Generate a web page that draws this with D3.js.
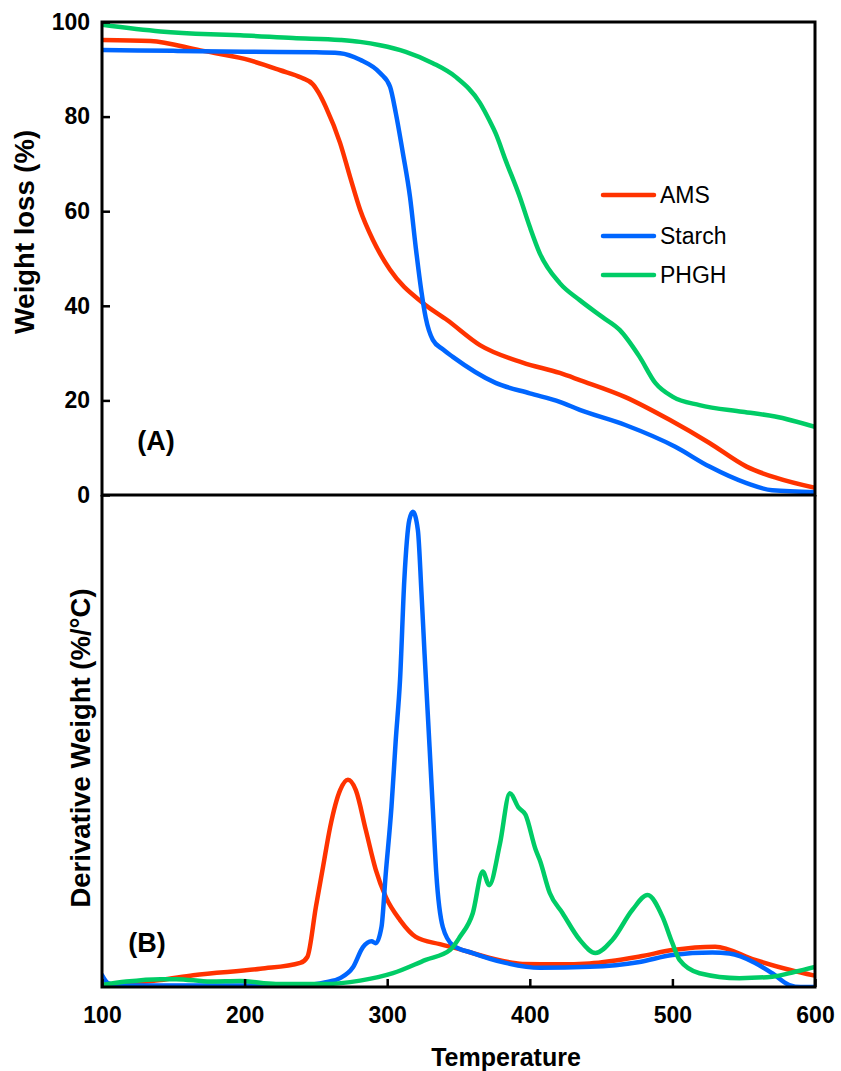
<!DOCTYPE html>
<html>
<head>
<meta charset="utf-8">
<script src="https://cdn.jsdelivr.net/npm/d3@7"></script>
<style>
  html, body { margin: 0; padding: 0; background: #fff; }
  svg { display: block; font-family: "Liberation Sans", Arial, sans-serif; }
</style>
</head>
<body>
<svg id="chart" width="841" height="1071"></svg>
<script>
// ---------- DATA ----------
const seriesNames = ["AMS", "Starch", "PHGH"];
const seriesColors = ["#FF3300", "#0066FF", "#00CC66"];
const xTicks = [100, 200, 300, 400, 500, 600];
const yTicksTop = [0, 20, 40, 60, 80, 100];

// (A) TGA: [temperature, weight %]
const amsTG = [[100,96.2],[134,96],[169,94],[200,92.2],[225,89.8],[240,88.2],[248,86.8],[252,85],[257,82],[267,74.4],[274,67.2],[281,60.3],[290,53.9],[302,47.6],[325,40.6],[342,37],[365,31.7],[395,28],[421,25.8],[435,24.3],[467,20.7],[498,15.9],[526,11],[552,6],[573,3.6],[600,1.5]];
const starchTG = [[100,94.1],[150,93.9],[200,93.7],[250,93.6],[267,93.4],[281,92],[295,89.2],[302,86.3],[306,80.8],[311,72.3],[316,63],[320,52.4],[324,43],[327,37.5],[332,32.8],[339,30.8],[346,29.2],[376,23.7],[400,21.5],[421,19.7],[435,18],[467,14.8],[502,10.2],[526,6],[552,2.5],[570,1],[600,0.6]];
const phghTG = [[100,99.4],[141,98],[176,97.4],[197,97.2],[234,96.6],[267,96.2],[281,95.8],[295,95.1],[313,93.7],[332,91.3],[348,88.4],[365,82.9],[372,79],[376,76.5],[383,70.8],[393,63],[400,56.7],[407,51.1],[421,44.8],[435,41.2],[451,37.6],[463,34.9],[477,29.2],[488,23.7],[500,20.8],[519,19],[549,17.6],[572,16.6],[600,14.4]];

// (B) DTG: [temperature, derivative (arbitrary units)]
const amsDTG = [[100,0.4],[141,1.4],[164,2.4],[211,3.7],[239,4.9],[244,6.1],[250,16.3],[255,24.4],[260,32.5],[267,40],[272.5,42.1],[278,40],[285,31.9],[292,23.8],[299,18.3],[309,13.6],[320,10.2],[337,8.7],[348,7.9],[372,5.9],[395,4.7],[420,4.6],[442,4.8],[477,6.2],[500,7.5],[530,8.2],[558,5.5],[582,3.5],[600,2.3]];
const starchDTG = [[100,2.4],[104,0.8],[110,0.3],[200,0.3],[243,0.4],[257,1],[267,1.8],[276,4],[283,8.1],[289,9.3],[292,8.9],[296,12.2],[299,23.1],[303,36.6],[306,50.2],[309,62.4],[312,82.7],[315.5,94.9],[318,96.6],[321.5,92.9],[324,80.3],[326.2,67.7],[329.7,48.8],[332,36.2],[334.4,23.2],[339,12.2],[346,8.5],[360,6.9],[383,4.9],[407,3.9],[442,4.1],[477,5.1],[500,6.5],[528,7],[540,6.8],[558,4.9],[570,2.8],[582,0.4],[590,0],[600,0]];
const phghDTG = [[100,0.4],[117,1.1],[141,1.6],[152,1.6],[176,1.1],[197,1.2],[222,0.6],[257,0.6],[281,1.3],[304,2.8],[327,5.5],[344,7.5],[351,10.2],[360,15],[367,23.5],[371.5,20.7],[379,29],[386,39.4],[392,36.5],[397,35],[404,28],[407,25.8],[414,19.1],[423,15],[435,9.6],[446,6.9],[458,9.6],[472,15.7],[482.6,18.7],[493,14.3],[500,8.9],[505,5.5],[519,2.8],[547,1.8],[570,2.1],[586,3.1],[600,4.1]];

const tgData = [amsTG, starchTG, phghTG];
const dtgData = [amsDTG, starchDTG, phghDTG];

// ---------- LAYOUT ----------
const svg = d3.select("#chart");
const left = 102, right = 815;
const topA = 22, botA = 495, botB = 987;

const x = d3.scaleLinear().domain([100, 600]).range([left, right]);
const yA = d3.scaleLinear().domain([0, 100]).range([botA, topA]);
const yB = d3.scaleLinear().domain([0, 100]).range([botB, botA]);

const defs = svg.append("defs");
defs.append("clipPath").attr("id", "clipA").append("rect")
  .attr("x", left).attr("y", topA).attr("width", right - left).attr("height", botA - topA);
defs.append("clipPath").attr("id", "clipB").append("rect")
  .attr("x", left).attr("y", botA).attr("width", right - left).attr("height", botB - botA);

// ---------- PANEL A ----------
const lineA = d3.line().x(d => x(d[0])).y(d => yA(d[1])).curve(d3.curveMonotoneX);
svg.append("g").attr("clip-path", "url(#clipA)")
  .selectAll("path").data(tgData).join("path")
  .attr("d", lineA).attr("fill", "none")
  .attr("stroke", (d, i) => seriesColors[i]).attr("stroke-width", 4.5)
  .attr("stroke-linejoin", "round").attr("stroke-linecap", "round");

const axA = svg.append("g").attr("transform", `translate(${left},0)`)
  .call(d3.axisLeft(yA).tickValues(yTicksTop).tickSizeInner(-8).tickSizeOuter(0).tickPadding(12));
axA.select(".domain").remove();
axA.selectAll("line").attr("stroke", "#000").attr("stroke-width", 2.5);
axA.selectAll("text").attr("font-size", 23).attr("font-weight", "bold").attr("fill", "#000");

// frame A
svg.append("rect").attr("x", left).attr("y", topA).attr("width", right - left).attr("height", botA - topA)
  .attr("fill", "none").attr("stroke", "#000").attr("stroke-width", 3);

svg.append("text").attr("transform", `translate(34,232) rotate(-90)`)
  .attr("text-anchor", "middle")
  .attr("font-size", 27.5).attr("font-weight", "bold").text("Weight loss (%)");

svg.append("text").attr("x", 156).attr("y", 441).attr("text-anchor", "middle")
  .attr("dominant-baseline", "central").attr("font-size", 27).attr("font-weight", "bold").text("(A)");

// legend
const legY = [195, 236, 275];
const leg = svg.append("g");
seriesNames.forEach((name, i) => {
  leg.append("line").attr("x1", 603).attr("x2", 654).attr("y1", legY[i]).attr("y2", legY[i])
    .attr("stroke", seriesColors[i]).attr("stroke-width", 4.5).attr("stroke-linecap", "round");
  leg.append("text").attr("x", 660).attr("y", legY[i]).attr("dominant-baseline", "central")
    .attr("font-size", 23).attr("fill", "#000").text(name);
});

// ---------- PANEL B ----------
const lineB = d3.line().x(d => x(d[0])).y(d => yB(d[1])).curve(d3.curveMonotoneX);
svg.append("g").attr("clip-path", "url(#clipB)")
  .selectAll("path").data(dtgData).join("path")
  .attr("d", lineB).attr("fill", "none")
  .attr("stroke", (d, i) => seriesColors[i]).attr("stroke-width", 4.5)
  .attr("stroke-linejoin", "round").attr("stroke-linecap", "round");

const axB = svg.append("g").attr("transform", `translate(0,${botB})`)
  .call(d3.axisBottom(x).tickValues(xTicks).tickSizeInner(-8).tickSizeOuter(0).tickPadding(20));
axB.select(".domain").remove();
axB.selectAll("line").attr("stroke", "#000").attr("stroke-width", 2.5);
axB.selectAll("text").attr("font-size", 23).attr("font-weight", "bold").attr("fill", "#000");

// frame B (left, bottom, right)
svg.append("path")
  .attr("d", `M${left},${botA} V${botB} H${right} V${botA}`)
  .attr("fill", "none").attr("stroke", "#000").attr("stroke-width", 3);

svg.append("text").attr("transform", `translate(90,748) rotate(-90)`)
  .attr("text-anchor", "middle")
  .attr("font-size", 27.5).attr("font-weight", "bold").text("Derivative Weight (%/°C)");

svg.append("text").attr("x", 147).attr("y", 943).attr("text-anchor", "middle")
  .attr("dominant-baseline", "central").attr("font-size", 27).attr("font-weight", "bold").text("(B)");

svg.append("text").attr("x", 506).attr("y", 1057).attr("text-anchor", "middle")
  .attr("dominant-baseline", "central").attr("font-size", 25).attr("font-weight", "bold").text("Temperature");
</script>
</body>
</html>
